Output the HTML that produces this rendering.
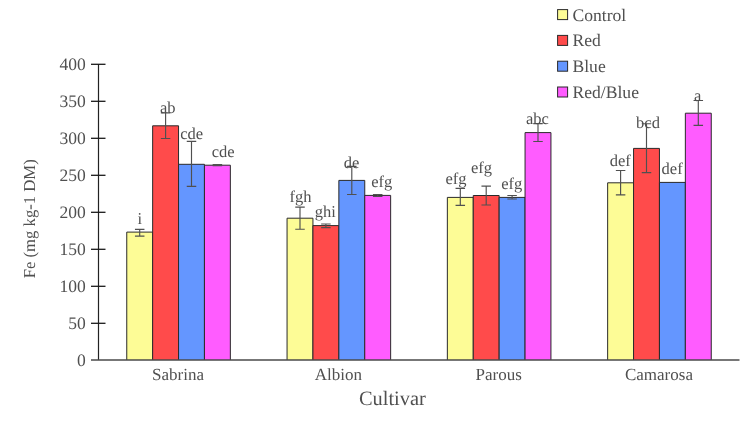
<!DOCTYPE html>
<html><head><meta charset="utf-8"><style>
html,body{margin:0;padding:0;background:#fff;}
svg{display:block;will-change:transform;}
text{font-family:"Liberation Serif",serif;fill:#505050;text-rendering:geometricPrecision;}
.lab{font-size:16.5px;}
.tick{font-size:17.5px;}
.cat{font-size:17px;}
.title{font-size:20.4px;}
.ytitle{font-size:16.7px;}
.leg{font-size:17.6px;}
</style></head><body>
<svg width="744" height="427" viewBox="0 0 744 427">
<rect width="744" height="427" fill="#fff"/>
<rect x="126.75" y="232.10" width="25.90" height="127.90" fill="#FDFC96"/>
<path d="M126.75 360.0V232.10H152.65V360.0" fill="none" stroke="#2a2a2a" stroke-width="1"/>
<rect x="152.65" y="125.80" width="25.90" height="234.20" fill="#FF4B4B"/>
<path d="M152.65 360.0V125.80H178.55V360.0" fill="none" stroke="#2a2a2a" stroke-width="1"/>
<rect x="178.55" y="164.30" width="25.90" height="195.70" fill="#6496FF"/>
<path d="M178.55 360.0V164.30H204.45V360.0" fill="none" stroke="#2a2a2a" stroke-width="1"/>
<rect x="204.45" y="165.20" width="25.90" height="194.80" fill="#FF5CFF"/>
<path d="M204.45 360.0V165.20H230.35V360.0" fill="none" stroke="#2a2a2a" stroke-width="1"/>
<rect x="287.05" y="218.20" width="25.90" height="141.80" fill="#FDFC96"/>
<path d="M287.05 360.0V218.20H312.95V360.0" fill="none" stroke="#2a2a2a" stroke-width="1"/>
<rect x="312.95" y="225.60" width="25.90" height="134.40" fill="#FF4B4B"/>
<path d="M312.95 360.0V225.60H338.85V360.0" fill="none" stroke="#2a2a2a" stroke-width="1"/>
<rect x="338.85" y="180.40" width="25.90" height="179.60" fill="#6496FF"/>
<path d="M338.85 360.0V180.40H364.75V360.0" fill="none" stroke="#2a2a2a" stroke-width="1"/>
<rect x="364.75" y="195.40" width="25.90" height="164.60" fill="#FF5CFF"/>
<path d="M364.75 360.0V195.40H390.65V360.0" fill="none" stroke="#2a2a2a" stroke-width="1"/>
<rect x="447.35" y="197.40" width="25.90" height="162.60" fill="#FDFC96"/>
<path d="M447.35 360.0V197.40H473.25V360.0" fill="none" stroke="#2a2a2a" stroke-width="1"/>
<rect x="473.25" y="195.50" width="25.90" height="164.50" fill="#FF4B4B"/>
<path d="M473.25 360.0V195.50H499.15V360.0" fill="none" stroke="#2a2a2a" stroke-width="1"/>
<rect x="499.15" y="197.40" width="25.90" height="162.60" fill="#6496FF"/>
<path d="M499.15 360.0V197.40H525.05V360.0" fill="none" stroke="#2a2a2a" stroke-width="1"/>
<rect x="525.05" y="132.60" width="25.90" height="227.40" fill="#FF5CFF"/>
<path d="M525.05 360.0V132.60H550.95V360.0" fill="none" stroke="#2a2a2a" stroke-width="1"/>
<rect x="607.65" y="182.80" width="25.90" height="177.20" fill="#FDFC96"/>
<path d="M607.65 360.0V182.80H633.55V360.0" fill="none" stroke="#2a2a2a" stroke-width="1"/>
<rect x="633.55" y="148.40" width="25.90" height="211.60" fill="#FF4B4B"/>
<path d="M633.55 360.0V148.40H659.45V360.0" fill="none" stroke="#2a2a2a" stroke-width="1"/>
<rect x="659.45" y="182.40" width="25.90" height="177.60" fill="#6496FF"/>
<path d="M659.45 360.0V182.40H685.35V360.0" fill="none" stroke="#2a2a2a" stroke-width="1"/>
<rect x="685.35" y="113.20" width="25.90" height="246.80" fill="#FF5CFF"/>
<path d="M685.35 360.0V113.20H711.25V360.0" fill="none" stroke="#2a2a2a" stroke-width="1"/>
<path d="M139.70 229.40V236.10M134.95 229.40H144.45M134.95 236.10H144.45" stroke="#505050" stroke-width="1.15" fill="none"/>
<path d="M165.60 112.90V138.50M160.85 112.90H170.35M160.85 138.50H170.35" stroke="#505050" stroke-width="1.15" fill="none"/>
<path d="M191.50 141.40V186.30M186.75 141.40H196.25M186.75 186.30H196.25" stroke="#505050" stroke-width="1.15" fill="none"/>
<path d="M217.40 164.60V165.60M212.65 164.60H222.15M212.65 165.60H222.15" stroke="#505050" stroke-width="1.15" fill="none"/>
<path d="M300.00 207.10V229.20M295.25 207.10H304.75M295.25 229.20H304.75" stroke="#505050" stroke-width="1.15" fill="none"/>
<path d="M325.90 224.00V227.60M321.15 224.00H330.65M321.15 227.60H330.65" stroke="#505050" stroke-width="1.15" fill="none"/>
<path d="M351.80 166.30V194.50M347.05 166.30H356.55M347.05 194.50H356.55" stroke="#505050" stroke-width="1.15" fill="none"/>
<path d="M377.70 194.50V196.50M372.95 194.50H382.45M372.95 196.50H382.45" stroke="#505050" stroke-width="1.15" fill="none"/>
<path d="M460.30 188.40V205.40M455.55 188.40H465.05M455.55 205.40H465.05" stroke="#505050" stroke-width="1.15" fill="none"/>
<path d="M486.20 186.10V205.00M481.45 186.10H490.95M481.45 205.00H490.95" stroke="#505050" stroke-width="1.15" fill="none"/>
<path d="M512.10 195.50V199.00M507.35 195.50H516.85M507.35 199.00H516.85" stroke="#505050" stroke-width="1.15" fill="none"/>
<path d="M538.00 123.60V141.50M533.25 123.60H542.75M533.25 141.50H542.75" stroke="#505050" stroke-width="1.15" fill="none"/>
<path d="M620.60 170.50V194.80M615.85 170.50H625.35M615.85 194.80H625.35" stroke="#505050" stroke-width="1.15" fill="none"/>
<path d="M646.50 123.70V172.60M641.75 123.70H651.25M641.75 172.60H651.25" stroke="#505050" stroke-width="1.15" fill="none"/>
<path d="M698.30 100.50V125.40M693.55 100.50H703.05M693.55 125.40H703.05" stroke="#505050" stroke-width="1.15" fill="none"/>
<text x="137.40" y="223.70" class="lab">i</text>
<text x="160.00" y="113.10" class="lab">ab</text>
<text x="180.30" y="138.90" class="lab">cde</text>
<text x="211.80" y="156.90" class="lab">cde</text>
<text x="289.60" y="202.40" class="lab">fgh</text>
<text x="314.80" y="217.10" class="lab">ghi</text>
<text x="343.70" y="168.10" class="lab">de</text>
<text x="371.20" y="187.10" class="lab">efg</text>
<text x="445.40" y="183.70" class="lab">efg</text>
<text x="470.90" y="173.40" class="lab">efg</text>
<text x="501.20" y="188.90" class="lab">efg</text>
<text x="525.90" y="123.80" class="lab">abc</text>
<text x="609.80" y="165.80" class="lab">def</text>
<text x="636.10" y="128.40" class="lab">bcd</text>
<text x="661.60" y="173.80" class="lab">def</text>
<text x="694.00" y="100.50" class="lab">a</text>
<path d="M98.5 64V360" stroke="#222" stroke-width="1.2" fill="none"/>
<path d="M91 360H739.5" stroke="#4a4a4a" stroke-width="1.6" fill="none"/>
<text x="85.8" y="365.90" class="tick" text-anchor="end">0</text>
<path d="M91 323.30H105.5" stroke="#1a1a1a" stroke-width="1.3"/>
<text x="85.8" y="328.90" class="tick" text-anchor="end">50</text>
<path d="M91 286.30H105.5" stroke="#1a1a1a" stroke-width="1.3"/>
<text x="85.8" y="291.90" class="tick" text-anchor="end">100</text>
<path d="M91 249.30H105.5" stroke="#1a1a1a" stroke-width="1.3"/>
<text x="85.8" y="254.90" class="tick" text-anchor="end">150</text>
<path d="M91 212.30H105.5" stroke="#1a1a1a" stroke-width="1.3"/>
<text x="85.8" y="217.90" class="tick" text-anchor="end">200</text>
<path d="M91 175.30H105.5" stroke="#1a1a1a" stroke-width="1.3"/>
<text x="85.8" y="180.90" class="tick" text-anchor="end">250</text>
<path d="M91 138.30H105.5" stroke="#1a1a1a" stroke-width="1.3"/>
<text x="85.8" y="143.90" class="tick" text-anchor="end">300</text>
<path d="M91 101.30H105.5" stroke="#1a1a1a" stroke-width="1.3"/>
<text x="85.8" y="106.90" class="tick" text-anchor="end">350</text>
<path d="M91 64.30H105.5" stroke="#1a1a1a" stroke-width="1.3"/>
<text x="85.8" y="69.90" class="tick" text-anchor="end">400</text>
<text x="178.05" y="380.2" class="cat" text-anchor="middle">Sabrina</text>
<text x="338.35" y="380.2" class="cat" text-anchor="middle">Albion</text>
<text x="498.65" y="380.2" class="cat" text-anchor="middle">Parous</text>
<text x="658.95" y="380.2" class="cat" text-anchor="middle">Camarosa</text>
<text x="392.4" y="404.8" class="title" text-anchor="middle">Cultivar</text>
<text transform="translate(35 218.8) rotate(-90)" class="ytitle" text-anchor="middle">Fe (mg kg-1 DM)</text>
<rect x="557.6" y="9.60" width="10" height="10" fill="#FDFC96" stroke="#2a2a2a" stroke-width="1"/>
<text x="572.5" y="20.60" class="leg">Control</text>
<rect x="557.6" y="35.40" width="10" height="10" fill="#FF4B4B" stroke="#2a2a2a" stroke-width="1"/>
<text x="572.5" y="46.40" class="leg">Red</text>
<rect x="557.6" y="61.20" width="10" height="10" fill="#6496FF" stroke="#2a2a2a" stroke-width="1"/>
<text x="572.5" y="72.20" class="leg">Blue</text>
<rect x="557.6" y="87.00" width="10" height="10" fill="#FF5CFF" stroke="#2a2a2a" stroke-width="1"/>
<text x="572.5" y="98.00" class="leg">Red/Blue</text>
</svg>
</body></html>
